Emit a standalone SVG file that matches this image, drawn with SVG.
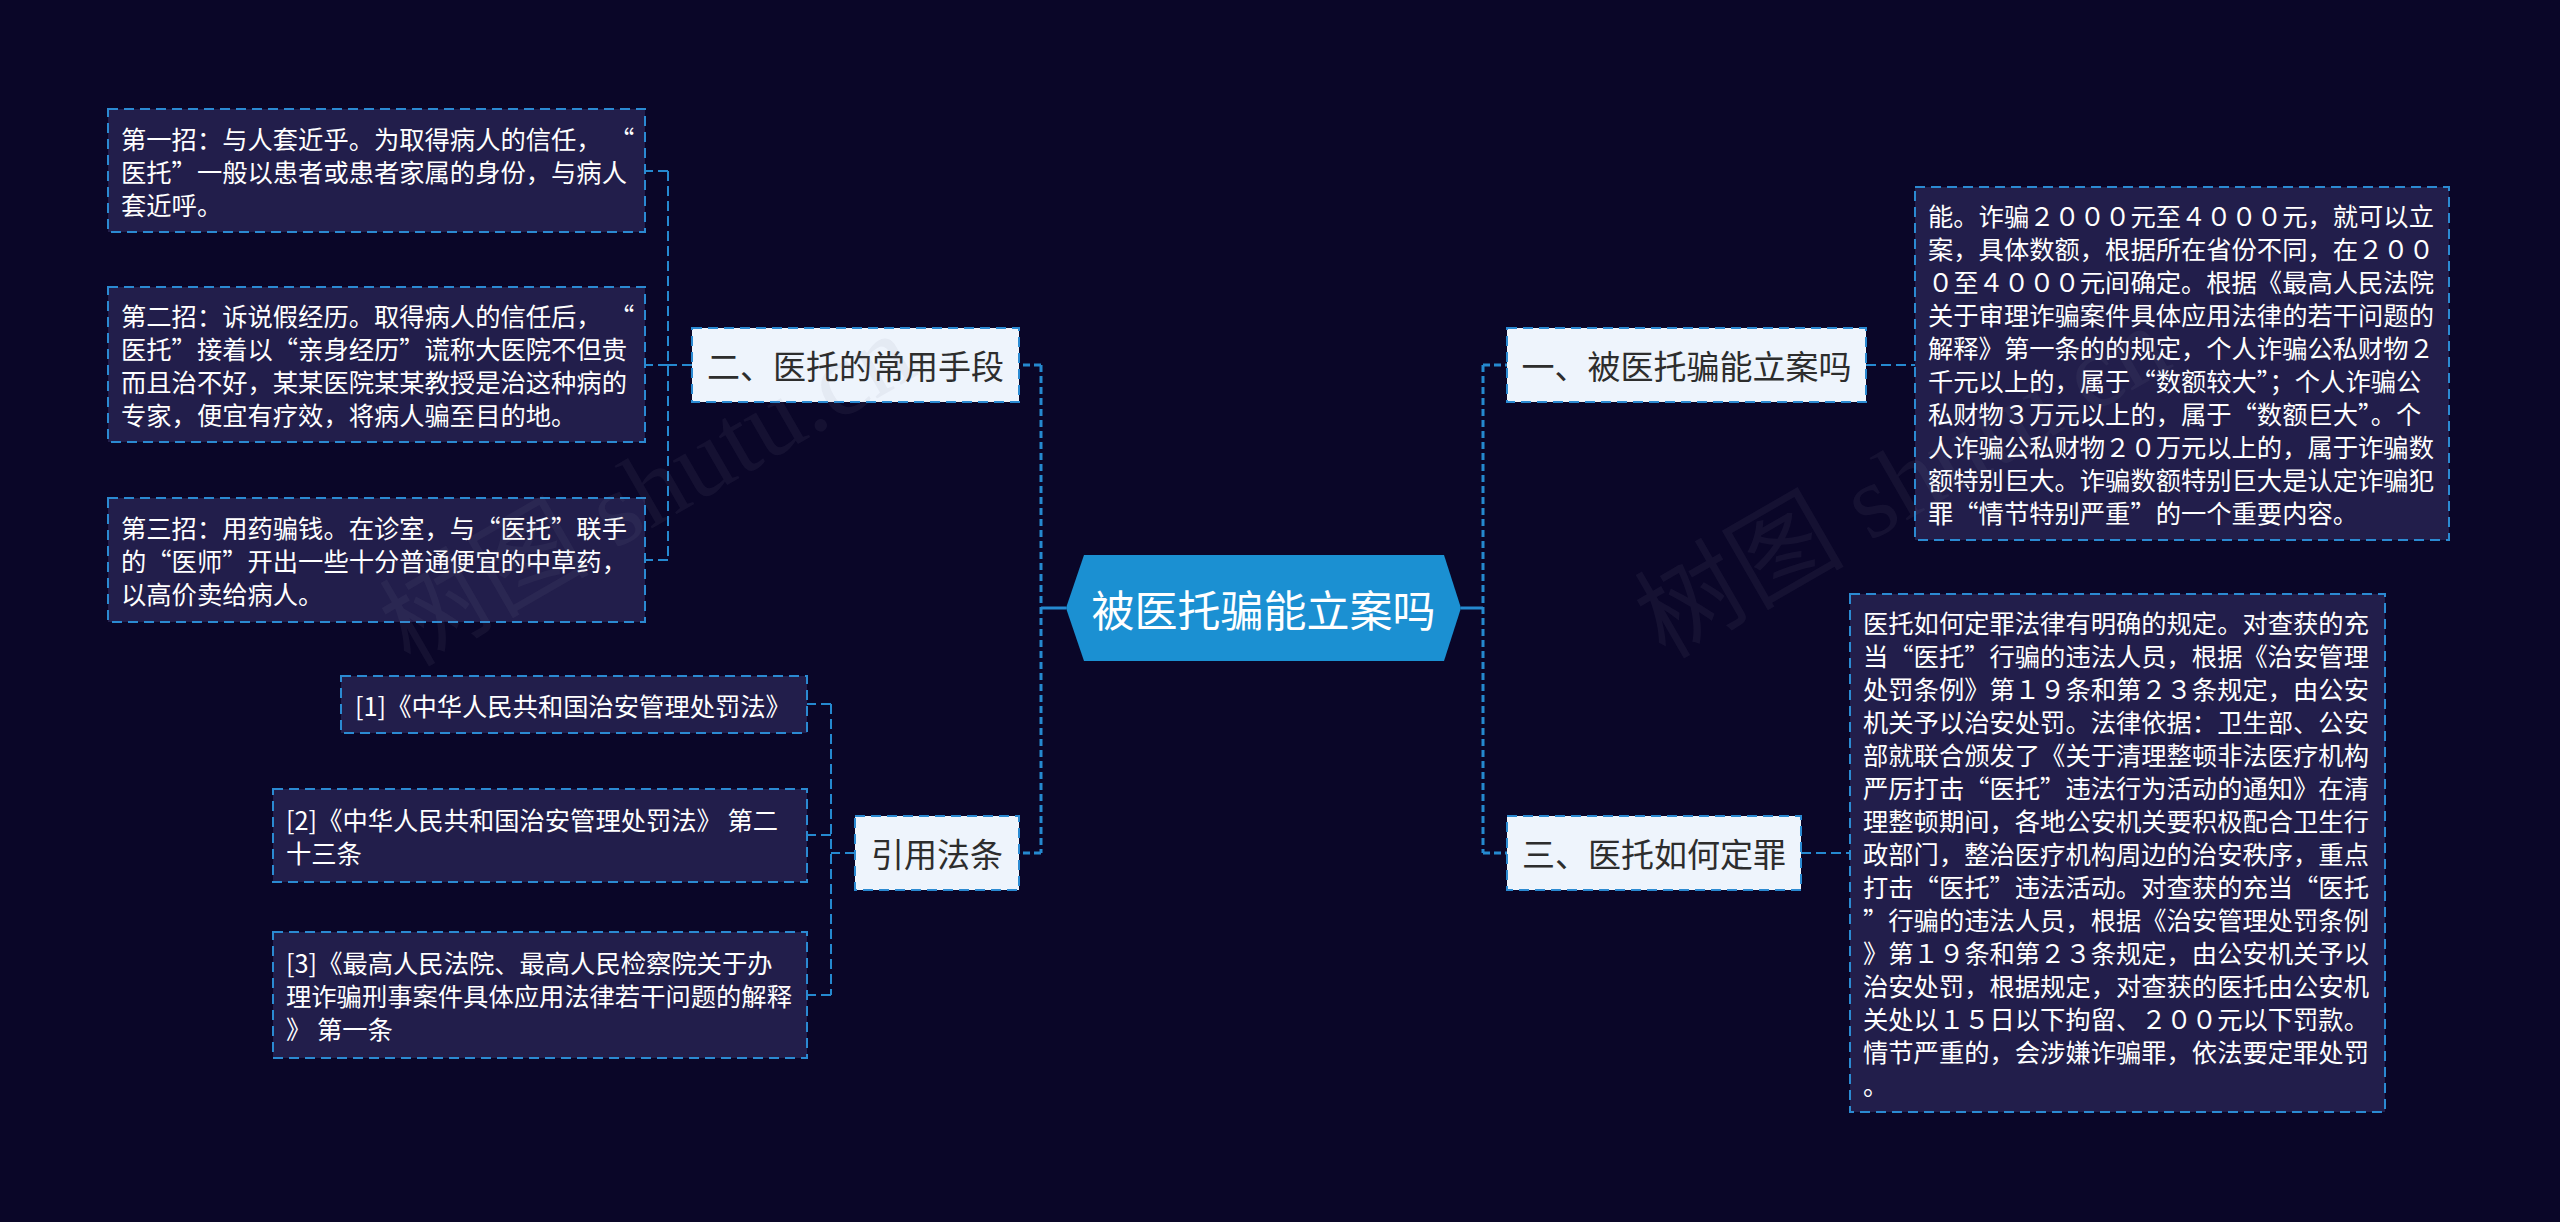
<svg xmlns="http://www.w3.org/2000/svg" width="2560" height="1222" viewBox="0 0 2560 1222">
<style>
text{font-family:"Noto Sans CJK SC","Microsoft YaHei",sans-serif;dominant-baseline:central}
.leaf rect{fill:#221e4b;stroke:#2b8ad2;stroke-width:2;stroke-dasharray:10 6}
.leaf text{fill:#ffffff;font-size:25.3px}
.branch rect{fill:#eef4fc;stroke:#2b8ad2;stroke-width:2;stroke-dasharray:10 6}
.branch text{fill:#2d2d2d;font-size:33px;text-anchor:middle}
.main{fill:none;stroke:#2589d0;stroke-width:3;stroke-dasharray:7 4}
.solid{fill:none;stroke:#2589d0;stroke-width:3}
.sub{fill:none;stroke:#2589d0;stroke-width:2;stroke-dasharray:10 5}
.wm{font-family:"Liberation Serif","Noto Sans CJK SC",serif;font-size:105px;fill:#8a8aa0;fill-opacity:0.09;dominant-baseline:alphabetic}
</style>
<rect x="0" y="0" width="2560" height="1222" fill="#0a0628"/>

<g id="connectors">
<path class="solid" d="M1041,608 H1066 M1461,608 H1483"/>
<path class="main" d="M1041,365 V853 M1041,365 H1019 M1041,853 H1019"/>
<path class="main" d="M1483,365 V853 M1483,365 H1507 M1483,853 H1507"/>
<path class="sub" d="M692,365 H668 M668,171 V560 M668,171 H645 M668,365 H645 M668,560 H645"/>
<path class="sub" d="M855,853 H831 M831,704 V995 M831,704 H807 M831,835 H807 M831,995 H807"/>
<path class="sub" d="M1866,365 H1915 M1801,853 H1850"/>
</g>

<g id="root">
<polygon points="1066,608 1084,555 1444,555 1461,608 1444,661 1084,661" fill="#1b90d2"/>
<text x="1263.5" y="608" fill="#ffffff" font-size="43" text-anchor="middle">被医托骗能立案吗</text>
</g>

<g id="b2" class="branch">
<rect x="692" y="328" width="327" height="74"/>
<text x="855.5" y="365">二、医托的常用手段</text>
</g>
<g id="b4" class="branch">
<rect x="855" y="816" width="164" height="74"/>
<text x="937" y="853">引用法条</text>
</g>
<g id="b1" class="branch">
<rect x="1507" y="328" width="359" height="74"/>
<text x="1686.5" y="365">一、被医托骗能立案吗</text>
</g>
<g id="b3" class="branch">
<rect x="1507" y="816" width="294" height="74"/>
<text x="1654" y="853">三、医托如何定罪</text>
</g>

<g id="l1" class="leaf">
<rect x="108" y="109" width="537" height="123"/>
<text><tspan x="121" y="137.5">第一招：与人套近乎。为取得病人的信任，</tspan><tspan x="609" y="137.5">“</tspan><tspan x="121" y="170.5">医托”一般以患者或患者家属的身份，与病人</tspan><tspan x="121" y="203.5">套近呼。</tspan></text>
</g>
<g id="l2" class="leaf">
<rect x="108" y="287" width="537" height="155"/>
<text><tspan x="121" y="315">第二招：诉说假经历。取得病人的信任后，</tspan><tspan x="609" y="315">“</tspan><tspan x="121" y="348">医托”接着以“亲身经历”谎称大医院不但贵</tspan><tspan x="121" y="381">而且治不好，某某医院某某教授是治这种病的</tspan><tspan x="121" y="414">专家，便宜有疗效，将病人骗至目的地。</tspan></text>
</g>
<g id="l3" class="leaf">
<rect x="108" y="498" width="537" height="124"/>
<text><tspan x="121" y="527">第三招：用药骗钱。在诊室，与“医托”联手</tspan><tspan x="121" y="560">的“医师”开出一些十分普通便宜的中草药，</tspan><tspan x="121" y="593">以高价卖给病人。</tspan></text>
</g>

<g id="law1" class="leaf">
<rect x="341" y="676" width="466" height="57"/>
<text x="355" y="704.5">[1]《中华人民共和国治安管理处罚法》</text>
</g>
<g id="law2" class="leaf">
<rect x="273" y="789" width="534" height="93"/>
<text><tspan x="286" y="819">[2]《中华人民共和国治安管理处罚法》 第二</tspan><tspan x="286" y="852">十三条</tspan></text>
</g>
<g id="law3" class="leaf">
<rect x="273" y="932" width="534" height="126"/>
<text><tspan x="286" y="962">[3]《最高人民法院、最高人民检察院关于办</tspan><tspan x="286" y="995">理诈骗刑事案件具体应用法律若干问题的解释</tspan><tspan x="286" y="1028">》 第一条</tspan></text>
</g>

<g id="r1" class="leaf">
<rect x="1915" y="187" width="534" height="353"/>
<text><tspan x="1928" y="215">能。诈骗２０００元至４０００元，就可以立</tspan><tspan x="1928" y="248">案，具体数额，根据所在省份不同，在２００</tspan><tspan x="1928" y="281">０至４０００元间确定。根据《最高人民法院</tspan><tspan x="1928" y="314">关于审理诈骗案件具体应用法律的若干问题的</tspan><tspan x="1928" y="347">解释》第一条的的规定，个人诈骗公私财物２</tspan><tspan x="1928" y="380">千元以上的，属于“数额较大”；个人诈骗公</tspan><tspan x="1928" y="413">私财物３万元以上的，属于“数额巨大”。个</tspan><tspan x="1928" y="446">人诈骗公私财物２０万元以上的，属于诈骗数</tspan><tspan x="1928" y="479">额特别巨大。诈骗数额特别巨大是认定诈骗犯</tspan><tspan x="1928" y="512">罪“情节特别严重”的一个重要内容。</tspan></text>
</g>
<g id="r2" class="leaf">
<rect x="1850" y="594" width="535" height="518"/>
<text><tspan x="1863" y="622">医托如何定罪法律有明确的规定。对查获的充</tspan><tspan x="1863" y="655">当“医托”行骗的违法人员，根据《治安管理</tspan><tspan x="1863" y="688">处罚条例》第１９条和第２３条规定，由公安</tspan><tspan x="1863" y="721">机关予以治安处罚。法律依据：卫生部、公安</tspan><tspan x="1863" y="754">部就联合颁发了《关于清理整顿非法医疗机构</tspan><tspan x="1863" y="787">严厉打击“医托”违法行为活动的通知》在清</tspan><tspan x="1863" y="820">理整顿期间，各地公安机关要积极配合卫生行</tspan><tspan x="1863" y="853">政部门，整治医疗机构周边的治安秩序，重点</tspan><tspan x="1863" y="886">打击“医托”违法活动。对查获的充当“医托</tspan><tspan x="1863" y="919">”行骗的违法人员，根据《治安管理处罚条例</tspan><tspan x="1863" y="952">》第１９条和第２３条规定，由公安机关予以</tspan><tspan x="1863" y="985">治安处罚，根据规定，对查获的医托由公安机</tspan><tspan x="1863" y="1018">关处以１５日以下拘留、２００元以下罚款。</tspan><tspan x="1863" y="1051">情节严重的，会涉嫌诈骗罪，依法要定罪处罚</tspan><tspan x="1863" y="1084">。</tspan></text>
</g>

<g id="watermark">
<text class="wm" transform="translate(410,668) rotate(-30)">树图 shutu.cn</text>
<text class="wm" transform="translate(1665,660) rotate(-30)">树图 shutu.cn</text>
</g>
</svg>
